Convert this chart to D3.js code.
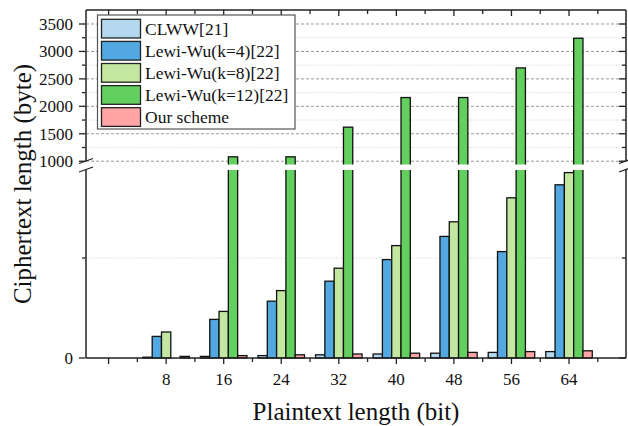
<!DOCTYPE html>
<html lang="en">
<head>
<meta charset="UTF-8">
<title>Ciphertext length</title>
<style>
body { margin: 0; background: #fff; }
text { font-family: "Liberation Serif", "Times New Roman", serif; fill: #111; }
.grid-major { stroke: #9a9a9a; stroke-width: 1px; stroke-dasharray: 3,2; }
.grid-minor { stroke: #d0d0d0; stroke-width: 1px; stroke-dasharray: 1,1.5; }
.axis-line { stroke: #222; stroke-width: 1.5px; fill: none; }
.tick { stroke: #222; stroke-width: 1.3px; }
.bar { stroke: #111; stroke-width: 1.3px; }
</style>
</head>
<body>
<div id="chart"></div>
<script src="https://cdnjs.cloudflare.com/ajax/libs/d3/7.8.5/d3.min.js"></script>
<script>
// plaintext lengths (bit)
let bits = [8, 16, 24, 32, 40, 48, 56, 64];
// ciphertext lengths (byte)
let clww  = [4, 8, 12, 16, 20, 24, 28, 32];
let lw4   = [108, 193, 284, 384, 492, 608, 532, 866];
let lw8   = [130, 233, 337, 449, 562, 681, 801, 927];
let lw12  = [null, 1080, 1080, 1620, 2160, 2160, 2700, 3240];
let ours  = [8, 12, 16, 20, 24, 28, 32, 36];

let seriesNames = ["CLWW[21]", "Lewi-Wu(k=4)[22]", "Lewi-Wu(k=8)[22]", "Lewi-Wu(k=12)[22]", "Our scheme"];
let seriesColors = ["#b3d8ee", "#52a8e0", "#c3e6a0", "#63cf5e", "#ffa5a5"];
let seriesValues = [clww, lw4, lw8, lw12, ours];

let xMajor = [0, 8, 16, 24, 32, 40, 48, 56, 64];
let xMinor = [4, 12, 20, 28, 36, 44, 52, 60, 68];
let yMajorHigh = [1000, 1500, 2000, 2500, 3000, 3500];
let yMinorHigh = [1250, 1750, 2250, 2750, 3250, 3750];
let yMajorLow = [0];
let yMinorLow = [500];

const W = 628, H = 426;
const pL = 86, pR = 626, pT = 10, pB = 358;
const lowTop = 170, highBottom = 164.5;

let x = d3.scaleLinear().domain([-3.14, 71.92]).range([pL, pR]);
let yLow = d3.scaleLinear().domain([0, 940]).range([pB, lowTop]);
let yHigh = d3.scaleLinear().domain([940, 3755]).range([highBottom, pT]);

let bw = 9.3;
let inner = d3.scaleBand().domain(seriesNames).range([-2.5 * bw, 2.5 * bw]);

let svg = d3.select("#chart").append("svg")
    .attr("width", W)
    .attr("height", H);

let defs = svg.append("defs");
defs.append("clipPath").attr("id", "clipLow")
  .append("rect").attr("x", 0).attr("y", lowTop).attr("width", W).attr("height", pB - lowTop + 3);
defs.append("clipPath").attr("id", "clipHigh")
  .append("rect").attr("x", 0).attr("y", 0).attr("width", W).attr("height", highBottom);

// grid lines
let grid = svg.append("g");
grid.selectAll("line.gmh").data(yMinorHigh.filter(v => yHigh(v) > pT + 1)).enter().append("line")
    .attr("class", "grid-minor")
    .attr("x1", pL).attr("x2", pR)
    .attr("y1", d => yHigh(d)).attr("y2", d => yHigh(d));
grid.selectAll("line.gml").data(yMinorLow).enter().append("line")
    .attr("class", "grid-minor")
    .attr("x1", pL).attr("x2", pR)
    .attr("y1", d => yLow(d)).attr("y2", d => yLow(d));
grid.selectAll("line.gMh").data(yMajorHigh).enter().append("line")
    .attr("class", "grid-major")
    .attr("x1", pL).attr("x2", pR)
    .attr("y1", d => yHigh(d)).attr("y2", d => yHigh(d));

// bars, drawn once per axis segment and clipped at the break
let rows = [];
seriesNames.forEach((name, s) => {
  bits.forEach((b, i) => {
    let v = seriesValues[s][i];
    if (v != null) rows.push({ name: name, color: seriesColors[s], bit: b, value: v });
  });
});

let gLow = svg.append("g").attr("clip-path", "url(#clipLow)");
gLow.selectAll("rect").data(rows).enter().append("rect")
    .attr("class", "bar")
    .attr("x", d => x(d.bit) + inner(d.name))
    .attr("width", inner.bandwidth())
    .attr("y", d => d.value > 940 ? lowTop - 5 : yLow(d.value))
    .attr("height", d => pB - (d.value > 940 ? lowTop - 5 : yLow(d.value)))
    .attr("fill", d => d.color);

let gHigh = svg.append("g").attr("clip-path", "url(#clipHigh)");
gHigh.selectAll("rect").data(rows.filter(d => d.value > 940)).enter().append("rect")
    .attr("class", "bar")
    .attr("x", d => x(d.bit) + inner(d.name))
    .attr("width", inner.bandwidth())
    .attr("y", d => yHigh(d.value))
    .attr("height", d => highBottom + 5 - yHigh(d.value))
    .attr("fill", d => d.color);

// frame with break
let axes = svg.append("g");
[pL, pR].forEach(ax => {
  axes.append("line").attr("class", "axis-line")
      .attr("x1", ax).attr("x2", ax).attr("y1", pT).attr("y2", 161);
  axes.append("line").attr("class", "axis-line")
      .attr("x1", ax).attr("x2", ax).attr("y1", 169.5).attr("y2", pB);
  [161, 169.5].forEach(yy => {
    axes.append("line").attr("class", "tick")
        .attr("x1", ax - 7).attr("x2", ax + 7)
        .attr("y1", yy + 2.5).attr("y2", yy - 2.5);
  });
});
axes.append("line").attr("class", "axis-line")
    .attr("x1", pL).attr("x2", pR).attr("y1", pT).attr("y2", pT);
axes.append("line").attr("class", "axis-line")
    .attr("x1", pL).attr("x2", pR).attr("y1", pB).attr("y2", pB);

// x ticks: bottom outward, top inward
axes.selectAll("line.xmaj").data(xMajor).enter().append("line").attr("class", "tick")
    .attr("x1", d => x(d)).attr("x2", d => x(d)).attr("y1", pB).attr("y2", pB + 6);
axes.selectAll("line.xmin").data(xMinor).enter().append("line").attr("class", "tick")
    .attr("x1", d => x(d)).attr("x2", d => x(d)).attr("y1", pB).attr("y2", pB + 4);
axes.selectAll("line.xmajt").data(xMajor).enter().append("line").attr("class", "tick")
    .attr("x1", d => x(d)).attr("x2", d => x(d)).attr("y1", pT).attr("y2", pT + 6);
axes.selectAll("line.xmint").data(xMinor).enter().append("line").attr("class", "tick")
    .attr("x1", d => x(d)).attr("x2", d => x(d)).attr("y1", pT).attr("y2", pT + 4);

// y ticks: left outward, right inward
let yTicks = []
  .concat(yMajorHigh.map(v => ({ y: yHigh(v), len: 7 })))
  .concat(yMinorHigh.filter(v => yHigh(v) > pT + 1).map(v => ({ y: yHigh(v), len: 4 })))
  .concat(yMajorLow.map(v => ({ y: yLow(v), len: 7 })))
  .concat(yMinorLow.map(v => ({ y: yLow(v), len: 4 })));
axes.selectAll("line.yl").data(yTicks).enter().append("line").attr("class", "tick")
    .attr("x1", pL - 0.5).attr("x2", d => pL - d.len).attr("y1", d => d.y).attr("y2", d => d.y);
axes.selectAll("line.yr").data(yTicks).enter().append("line").attr("class", "tick")
    .attr("x1", pR).attr("x2", d => pR - d.len).attr("y1", d => d.y).attr("y2", d => d.y);

// tick labels
svg.append("g").selectAll("text").data(bits).enter().append("text")
    .attr("x", d => x(d)).attr("y", 385)
    .attr("text-anchor", "middle")
    .style("font-size", "17px")
    .text(d => d);
let yLabels = yMajorHigh.map(v => ({ y: yHigh(v), t: v })).concat(yMajorLow.map(v => ({ y: yLow(v), t: v })));
svg.append("g").selectAll("text").data(yLabels).enter().append("text")
    .attr("x", 73).attr("y", d => d.y + 6)
    .attr("text-anchor", "end")
    .style("font-size", "17px")
    .text(d => d.t);

// axis titles
svg.append("text")
    .attr("x", (pL + pR) / 2).attr("y", 420)
    .attr("text-anchor", "middle")
    .style("font-size", "25px")
    .text("Plaintext length (bit)");
svg.append("text")
    .attr("transform", "translate(31," + ((pT + pB) / 2) + ") rotate(-90)")
    .attr("text-anchor", "middle")
    .style("font-size", "25px")
    .text("Ciphertext length (byte)");

// legend
let legend = svg.append("g");
legend.append("rect")
    .attr("x", 97.5).attr("y", 15).attr("width", 197.5).attr("height", 114)
    .attr("fill", "#fff").attr("stroke", "#555").attr("stroke-width", 1.2);
let item = legend.selectAll("g.item").data(seriesNames).enter().append("g")
    .attr("transform", (d, i) => "translate(0," + (19.3 + i * 22.1) + ")");
item.append("rect")
    .attr("x", 101.5).attr("width", 39).attr("height", 18.7)
    .attr("fill", (d, i) => seriesColors[i])
    .attr("stroke", "#222").attr("stroke-width", 1.3);
item.append("text")
    .attr("x", 145).attr("y", 15.5)
    .style("font-size", "17.5px")
    .text(d => d);
</script>
</body>
</html>
